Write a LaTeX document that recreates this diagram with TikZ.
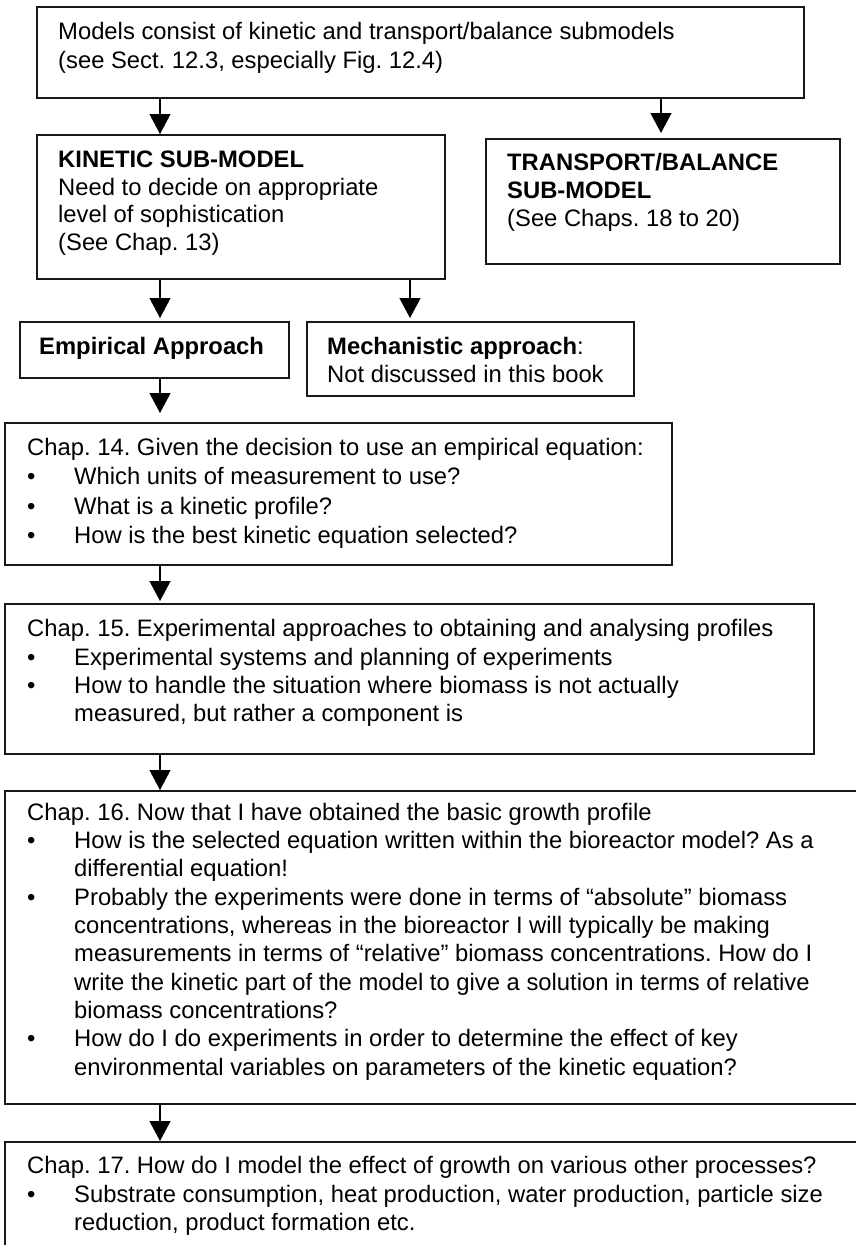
\documentclass[tikz,border=0pt]{standalone}
\usepackage{fontspec}
\setmainfont{Liberation Sans}
\usetikzlibrary{arrows.meta}
\frenchspacing
\begin{document}
\begin{tikzpicture}[x=1pt,y=-1pt,
  box/.style={draw=black!90, line width=1.8pt, inner sep=0pt, anchor=north west},
  txt/.style={anchor=base west, inner sep=0pt, font=\fontsize{23.8}{28}\selectfont},
  btxt/.style={anchor=base west, inner sep=0pt, font=\fontsize{23.8}{28}\selectfont\bfseries},
  arr/.style={line width=1.4pt, -{Triangle[width=21pt,length=20pt]}}]
\useasboundingbox (0,0) rectangle (856,1245);
\clip (0,0) rectangle (856,1245);
\fill[white] (0,0) rectangle (856,1245);
% column coordinates
\coordinate (xl) at (160,0);
\coordinate (xm) at (410,0);
\coordinate (xr) at (661,0);
% boxes
\node[box, minimum width=767pt, minimum height=91pt] (b1) at (36,6) {};
\node[box, minimum width=408pt, minimum height=144pt] (kin) at (36,134) {};
\node[box, minimum width=354pt, minimum height=125pt] (tr) at (485,138) {};
\node[box, minimum width=269pt, minimum height=56pt] (emp) at (19,321) {};
\node[box, minimum width=327pt, minimum height=74pt] (mech) at (306,321) {};
\node[box, minimum width=667pt, minimum height=142pt] (c14) at (4,422) {};
\node[box, minimum width=809pt, minimum height=150pt] (c15) at (4,603) {};
\node[box, minimum width=880pt, minimum height=313pt] (c16) at (4,790) {};
\node[box, minimum width=880pt, minimum height=150pt] (c17) at (4,1141) {};
% texts: top box
\node[txt] (t1a) at (58,39) {Models consist of kinetic and transport/balance submodels};
\node[txt] (t1b) at (58,68) {(see Sect. 12.3, especially Fig. 12.4)};
% kinetic
\node[btxt] (tka) at (58,167) {KINETIC SUB-MODEL};
\node[txt] (tkb) at (58,195) {Need to decide on appropriate};
\node[txt] (tkc) at (58,222) {level of sophistication};
\node[txt] (tkd) at (58,250) {(See Chap. 13)};
% transport
\node[btxt] (tta) at (507,170) {TRANSPORT/BALANCE};
\node[btxt] (ttb) at (507,198) {SUB-MODEL};
\node[txt] (ttc) at (507,226) {(See Chaps. 18 to 20)};
% empirical / mechanistic
\node[btxt] (tea) at (39,354) {Empirical Approach};
\node[txt] (tma) at (327,354) {\textbf{Mechanistic approach}:};
\node[txt] (tmb) at (327,382) {Not discussed in this book};
% chap 14
\node[txt] (t14a) at (27,455) {Chap. 14. Given the decision to use an empirical equation:};
\node[txt] (t14b) at (27,484) {•};
\node[txt] (t14c) at (74,484) {Which units of measurement to use?};
\node[txt] (t14d) at (27,514) {•};
\node[txt] (t14e) at (74,514) {What is a kinetic profile?};
\node[txt] (t14f) at (27,543) {•};
\node[txt] (t14g) at (74,543) {How is the best kinetic equation selected?};
% chap 15
\node[txt] (t15a) at (27,636) {Chap. 15. Experimental approaches to obtaining and analysing profiles};
\node[txt] (t15b) at (27,665) {•};
\node[txt] (t15c) at (74,665) {Experimental systems and planning of experiments};
\node[txt] (t15d) at (27,693) {•};
\node[txt] (t15e) at (74,693) {How to handle the situation where biomass is not actually};
\node[txt] (t15f) at (74,721) {measured, but rather a component is};
% chap 16
\node[txt] (t16a) at (27,820) {Chap. 16. Now that I have obtained the basic growth profile};
\node[txt] (t16b) at (27,848) {•};
\node[txt] (t16c) at (74,848) {How is the selected equation written within the bioreactor model? As a};
\node[txt] (t16d) at (74,876) {differential equation!};
\node[txt] (t16e) at (27,905) {•};
\node[txt] (t16f) at (74,905) {Probably the experiments were done in terms of “absolute” biomass};
\node[txt] (t16g) at (74,933) {concentrations, whereas in the bioreactor I will typically be making};
\node[txt] (t16h) at (74,961) {measurements in terms of “relative” biomass concentrations. How do I};
\node[txt] (t16i) at (74,990) {write the kinetic part of the model to give a solution in terms of relative};
\node[txt] (t16j) at (74,1018) {biomass concentrations?};
\node[txt] (t16k) at (27,1046) {•};
\node[txt] (t16l) at (74,1046) {How do I do experiments in order to determine the effect of key};
\node[txt] (t16m) at (74,1075) {environmental variables on parameters of the kinetic equation?};
% chap 17
\node[txt] (t17a) at (27,1173) {Chap. 17. How do I model the effect of growth on various other processes?};
\node[txt] (t17b) at (27,1202) {•};
\node[txt] (t17c) at (74,1202) {Substrate consumption, heat production, water production, particle size};
\node[txt] (t17d) at (74,1230) {reduction, product formation etc.};
% connectors
\draw[arr] (b1.south -| xl) -- (kin.north -| xl);
\draw[arr, shorten >=5pt] (b1.south -| xr) -- (tr.north -| xr);
\draw[arr, shorten >=3pt] (kin.south -| xl) -- (emp.north -| xl);
\draw[arr, shorten >=3pt] (kin.south -| xm) -- (mech.north -| xm);
\draw[arr, shorten >=9pt] (emp.south -| xl) -- (c14.north -| xl);
\draw[arr, shorten >=2pt] (c14.south -| xl) -- (c15.north -| xl);
\draw[arr] (c15.south -| xl) -- (c16.north -| xl);
\draw[arr] (c16.south -| xl) -- (c17.north -| xl);
\end{tikzpicture}
\end{document}
